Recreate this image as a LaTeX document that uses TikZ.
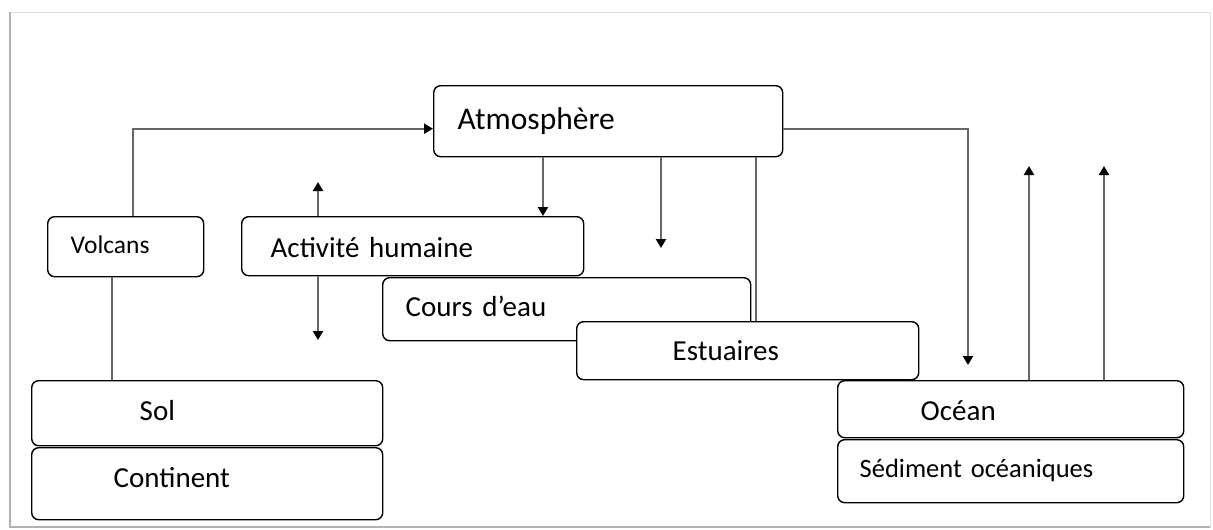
\documentclass[tikz,border=0pt]{standalone}
\usepackage{fontspec}
\setmainfont{Carlito}[WordSpace=0.8]
\usetikzlibrary{positioning, arrows.meta}

\tikzset{
    bloc/.style={draw=black, line width=1.4pt, rounded corners=7pt, fill=white,
        anchor=north west, inner sep=0pt, align=left,
        font=\fontsize{29}{34}\selectfont},
    trait/.style={draw=black!60, line width=2.2pt},
    fleche/.style={trait, -{Triangle[length=9pt, width=10pt, color=black]}}
}

\begin{document}
\begin{tikzpicture}[x=1pt, y=-1pt]
    \useasboundingbox (0,0) rectangle (1213,530);
    % cadre
    \draw[black!12, line width=1pt] (10,12) rectangle (1210,527);
    \draw[black!30, line width=2.5pt] (10,12) -- (10,527) -- (1210,527);

    \node[bloc, text width=349pt, minimum height=71pt, text height=44pt, text depth=27pt,
        font=\fontsize{31.5}{36}\selectfont] (atmo) at (433,85) {\hspace*{24pt}Atmosphère};
    \node[bloc, text width=156pt, minimum height=60pt, text height=37pt, text depth=23pt,
        font=\fontsize{25.5}{30}\selectfont] (volcans) at (47,216) {\hspace*{23pt}Volcans};
    \node[bloc, text width=342pt, minimum height=59pt, text height=41pt, text depth=18pt]
        (activite) at (241,216) {\hspace*{29pt}Activité humaine};
    \node[bloc, text width=368pt, minimum height=63pt, text height=39pt, text depth=24pt]
        (cours) at (382,277) {\hspace*{23pt}Cours d’eau};
    \node[bloc, text width=342pt, minimum height=58pt, text height=39pt, text depth=19pt]
        (estuaires) at (576,321) {\hspace*{96pt}Estuaires};
    \node[bloc, text width=351pt, minimum height=65pt, text height=40pt, text depth=25pt]
        (sol) at (31,380) {\hspace*{108pt}Sol};
    \node[bloc, text width=351pt, minimum height=72pt, text height=40pt, text depth=32pt]
        (continent) at (31,447) {\hspace*{82pt}Continent};
    \node[bloc, text width=346pt, minimum height=57pt, text height=40pt, text depth=17pt]
        (ocean) at (837,380) {\hspace*{83pt}Océan};
    \node[bloc, text width=346pt, minimum height=63pt, text height=38pt, text depth=25pt,
        font=\fontsize{26.5}{31}\selectfont] (sediment) at (837,439) {\hspace*{22pt}Sédiment océaniques};

    \coordinate (haut1) at (318,182);
    \coordinate (bas1) at (318,340);
    \coordinate (bas2) at (661,248);
    \coordinate (oc1) at (968,365);
    \coordinate (haut2) at (1029,166);
    \coordinate (haut3) at (1104,166);

    \draw[fleche] (volcans.north -| 133,0) |- ([yshift=-7.5pt]atmo.west);
    \draw[fleche] ([yshift=-7.5pt]atmo.east) -| (oc1);
    \draw[fleche] (atmo.south -| 543,0) -- (activite.north -| 543,0);
    \draw[fleche] (atmo.south -| bas2) -- (bas2);
    \draw[trait] (atmo.south -| 756,0) -- (estuaires.north -| 756,0);
    \draw[fleche] (activite.north -| haut1) -- (haut1);
    \draw[fleche] (activite.south -| bas1) -- (bas1);
    \draw[trait] (volcans.south -| 112,0) -- (sol.north -| 112,0);
    \draw[fleche] (ocean.north -| haut2) -- (haut2);
    \draw[fleche] (ocean.north -| haut3) -- (haut3);
\end{tikzpicture}
\end{document}
